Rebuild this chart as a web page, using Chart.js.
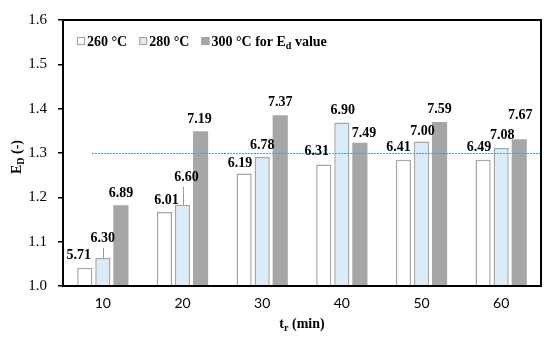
<!DOCTYPE html>
<html>
<head>
<meta charset="utf-8">
<script src="https://cdn.jsdelivr.net/npm/chart.js@4.4.1/dist/chart.umd.min.js"></script>
<style>
  html, body { margin: 0; padding: 0; background: #fff; }
  #wrap { width: 550px; height: 339px; }
</style>
</head>
<body>
<div id="wrap"><canvas id="c" width="550" height="339"></canvas></div>
<script>
// ---- data ----
const categories = ['10', '20', '30', '40', '50', '60'];
const seriesNames = ['260 °C', '280 °C', '300 °C for E'];
const values260 = [1.041, 1.167, 1.254, 1.274, 1.285, 1.285];
const values280 = [1.063, 1.183, 1.291, 1.369, 1.326, 1.311];
const values300 = [1.182, 1.349, 1.385, 1.323, 1.370, 1.331];
const labels260 = ['5.71', '6.01', '6.19', '6.31', '6.41', '6.49'];
const labels280 = ['6.30', '6.60', '6.78', '6.90', '7.00', '7.08'];
const labels300 = ['6.89', '7.19', '7.37', '7.49', '7.59', '7.67'];
const yTicks = [1.0, 1.1, 1.2, 1.3, 1.4, 1.5, 1.6];
const referenceValue = 1.3;

// ---- label placement nudges (pixels), kept apart from data ----
const nudgeX = [[-6, 2, -4, -7, -5, -4], [0, 4, 0, 1, 1, 1], [0, -1, 0, 4, 0, 1]];
const nudgeY = [[-1, 0, 2, -2, -1, -1], [-8, -16, 0, 0, 2, -1], [0, 0, -1, 2, -1, -12]];
const leader = [[0,0,0,0,0,0], [1,1,0,0,0,0], [0,0,0,0,0,0]];

const SERIF = '"Liberation Serif", "Times New Roman", serif';
const fills = ['#ffffff', '#dcebf8', '#a6a6a6'];
const borders = ['#a6a6a6', '#a6a6a6', '#a6a6a6'];
const allLabels = [labels260, labels280, labels300];

const decorPlugin = {
  id: 'decor',
  afterDatasetsDraw(chart) {
    const ctx = chart.ctx;
    const a = chart.chartArea;
    const y = chart.scales.y;
    // reference dotted line
    ctx.save();
    ctx.strokeStyle = '#3aa0e4';
    ctx.lineWidth = 1.2;
    ctx.setLineDash([2, 1]);
    const yr = Math.round(y.getPixelForValue(referenceValue)) + 0.5;
    ctx.beginPath();
    ctx.moveTo(a.left + 29, yr);
    ctx.lineTo(a.right, yr);
    ctx.stroke();
    ctx.restore();

    // value labels
    ctx.save();
    ctx.font = 'bold 14px ' + SERIF;
    ctx.fillStyle = '#000';
    ctx.textAlign = 'center';
    ctx.textBaseline = 'alphabetic';
    for (let i = 0; i < 3; i++) {
      const meta = chart.getDatasetMeta(i);
      meta.data.forEach((bar, j) => {
        const tx = bar.x + nudgeX[i][j];
        const ty = bar.y - 8 + nudgeY[i][j];
        if (leader[i][j]) {
          ctx.save();
          ctx.strokeStyle = '#999';
          ctx.lineWidth = 1;
          ctx.beginPath();
          ctx.moveTo(Math.round(bar.x) + 0.5, bar.y);
          ctx.lineTo(Math.round(bar.x) + 0.5, ty + 6);
          ctx.stroke();
          ctx.restore();
        }
        ctx.fillText(allLabels[i][j], tx, ty);
      });
    }
    ctx.restore();
  },
  afterDraw(chart) {
    const ctx = chart.ctx;
    const a = chart.chartArea;
    // frame
    ctx.save();
    ctx.strokeStyle = '#000';
    ctx.lineWidth = 2;
    ctx.strokeRect(a.left, a.top, a.right - a.left, a.bottom - a.top);
    ctx.restore();

    // legend
    ctx.save();
    ctx.font = 'bold 14px ' + SERIF;
    ctx.textBaseline = 'alphabetic';
    ctx.textAlign = 'left';
    let x = a.left + 14;
    const base = 45.5;
    for (let i = 0; i < 3; i++) {
      ctx.fillStyle = fills[i];
      ctx.fillRect(x, base - 8.5, 8, 8);
      ctx.strokeStyle = borders[i];
      ctx.lineWidth = 1.2;
      ctx.strokeRect(x + 0.5, base - 8, 7, 7);
      x += 10;
      ctx.fillStyle = '#000';
      ctx.fillText(seriesNames[i], x, base);
      x += ctx.measureText(seriesNames[i]).width;
      if (i === 2) {
        ctx.font = 'bold 10px ' + SERIF;
        ctx.fillText('d', x, base + 3);
        x += ctx.measureText('d').width;
        ctx.font = 'bold 14px ' + SERIF;
        ctx.fillText(' value', x, base);
      }
      x += 12;
    }
    ctx.restore();

    // y axis title
    ctx.save();
    ctx.translate(17, (a.top + a.bottom) / 2 + 4);
    ctx.rotate(-Math.PI / 2);
    ctx.fillStyle = '#000';
    ctx.textBaseline = 'middle';
    ctx.font = 'bold 14px ' + SERIF;
    const p1 = 'E', p3 = ' (-)';
    const w1 = ctx.measureText(p1).width;
    ctx.font = 'bold 10px ' + SERIF;
    const w2 = ctx.measureText('D').width;
    ctx.font = 'bold 14px ' + SERIF;
    const w3 = ctx.measureText(p3).width;
    let sx = -(w1 + w2 + w3) / 2;
    ctx.textAlign = 'left';
    ctx.fillText(p1, sx, 0);
    ctx.font = 'bold 10px ' + SERIF;
    ctx.fillText('D', sx + w1, 4);
    ctx.font = 'bold 14px ' + SERIF;
    ctx.fillText(p3, sx + w1 + w2, 0);
    ctx.restore();

    // x axis title
    ctx.save();
    ctx.fillStyle = '#000';
    ctx.textBaseline = 'alphabetic';
    ctx.textAlign = 'left';
    ctx.font = 'bold 14px ' + SERIF;
    const q1 = 't', q3 = ' (min)';
    const v1 = ctx.measureText(q1).width;
    ctx.font = 'bold 10px ' + SERIF;
    const v2 = ctx.measureText('r').width;
    ctx.font = 'bold 14px ' + SERIF;
    const v3 = ctx.measureText(q3).width;
    let qx = (a.left + a.right) / 2 - (v1 + v2 + v3) / 2;
    const qb = 328;
    ctx.fillText(q1, qx, qb);
    ctx.font = 'bold 10px ' + SERIF;
    ctx.fillText('r', qx + v1, qb + 3);
    ctx.font = 'bold 14px ' + SERIF;
    ctx.fillText(q3, qx + v1 + v2, qb);
    ctx.restore();
  }
};

const datasetValues = [values260, values280, values300];
new Chart(document.getElementById('c'), {
  type: 'bar',
  data: {
    labels: categories,
    datasets: datasetValues.map((vals, i) => ({
      label: seriesNames[i],
      data: vals,
      backgroundColor: fills[i],
      borderColor: borders[i],
      borderWidth: i === 2 ? 0 : 1.5,
      categoryPercentage: 0.68,
      barPercentage: 0.84
    }))
  },
  options: {
    responsive: false,
    animation: false,
    layout: { padding: { left: 0, right: 9, top: 16, bottom: 0 } },
    plugins: { legend: { display: false }, tooltip: { enabled: false } },
    scales: {
      x: {
        grid: { display: false, drawTicks: false },
        border: { display: false },
        ticks: { color: '#000', font: { family: 'Lato', size: 14 }, padding: 9 },
        afterFit(s) { s.height = 53; }
      },
      y: {
        min: yTicks[0],
        max: yTicks[yTicks.length - 1],
        afterBuildTicks(s) { s.ticks = yTicks.map(v => ({ value: v })); },
        grid: { drawOnChartArea: false, drawTicks: true, tickLength: 5, color: '#000', lineWidth: 1.5 },
        border: { display: false },
        ticks: {
          color: '#000',
          font: { family: SERIF, size: 15 },
          padding: 11,
          callback: v => Number(v).toFixed(1)
        },
        afterFit(s) { s.width = 63; }
      }
    }
  },
  plugins: [decorPlugin]
});
</script>
</body>
</html>
